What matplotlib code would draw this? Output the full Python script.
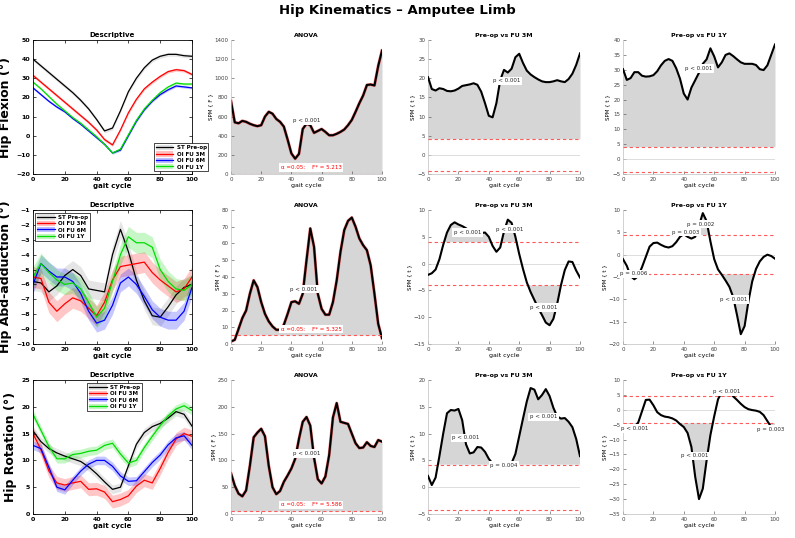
import numpy as np
import matplotlib
matplotlib.use('Agg')
import matplotlib.pyplot as plt
from matplotlib.patches import Patch
from matplotlib.lines import Line2D
from matplotlib.legend_handler import HandlerTuple

# gait cycle grids (%)
gait5 = np.arange(0, 101, 5)
gait25 = np.arange(0, 100.1, 2.5)

groups = ['ST Pre-op', 'OI FU 3M', 'OI FU 6M', 'OI FU 1Y']
group_colors = ['black', 'red', 'blue', '#00dd00']
band_colors = ['0.55', 'red', 'blue', '#00dd00']

# ---------------- Hip flexion (deg) ----------------
flex_pre = [40, 36.5, 33, 29.5, 26, 22.5, 18.5, 14, 8.5, 2.5, 4, 13, 23, 30, 35.5, 39.5, 41.5, 42.5, 42.5, 41.8, 41.5]
flex_3m = [31.5, 28, 24.5, 21, 17.5, 14, 10.5, 7, 3, -2, -4.8, 3, 12, 19, 24.5, 28, 31, 33.5, 34.5, 34, 32]
flex_6m = [25, 21.5, 18, 15, 12.5, 9, 6, 2.5, -1, -4.5, -9, -7.5, 0, 7.5, 13.5, 18, 21.5, 24, 26, 25.5, 25]
flex_1y = [28, 24.5, 20.5, 16.5, 13, 9.5, 6.5, 3, -0.5, -4.5, -9, -7, 0.5, 8, 14, 18.5, 22.5, 25.5, 27.5, 27, 27]
flex_sd = [1.0, 0.8, 0.6, 0.6]

flex_anova = [763, 540, 530, 555, 545, 525, 510, 500, 510, 600, 650, 630, 575, 545, 495, 360, 215, 160,
              210, 470, 525, 510, 430, 450, 470, 440, 405, 405, 420, 440, 465, 510, 565, 650, 740, 820,
              930, 935, 925, 1130, 1290]
flex_fstar = 5.213
flex_t3m = [20.3, 17.2, 16.8, 17.4, 17.2, 16.7, 16.6, 16.8, 17.3, 18.0, 18.2, 18.4, 18.7, 18.3, 16.5, 13.5,
            10.2, 9.8, 13.5, 19.5, 22.2, 21.5, 22.5, 25.5, 26.4, 24, 22, 21, 20.3, 19.7, 19.2, 19.0, 19.0,
            19.2, 19.5, 19.2, 19.0, 19.8, 21.2, 23.5, 26.5]
flex_t3m_thr = 4.2
flex_t1y = [30.2, 26.6, 27.2, 29.2, 29.2, 28.0, 27.7, 27.8, 28.2, 29.5, 31.5, 33, 33.6, 33, 30.5, 27, 22,
            20, 24, 26.5, 29, 32, 33.5, 37.2, 34.5, 30.8, 32.5, 35, 35.5, 34.6, 33.5, 32.5, 32, 32, 32,
            31.6, 30.2, 29.9, 31.5, 35, 38.5]
flex_t1y_thr = 4.2

# ---------------- Hip abd-adduction (deg) ----------------
abd_pre = [-5.8, -5.9, -6.5, -6.1, -5.4, -5.0, -5.4, -6.3, -6.4, -6.5, -4.0, -2.3, -3.8, -5.7, -7.1, -8.1,
           -8.2, -7.5, -6.7, -6.2, -6.0]
abd_3m = [-5.5, -5.6, -7.2, -7.8, -7.3, -6.9, -7.1, -7.6, -8.1, -7.2, -5.7, -4.8, -4.7, -4.6, -4.5, -5.2,
          -5.7, -6.1, -6.5, -6.3, -5.5]
abd_6m = [-6.0, -4.6, -5.1, -5.5, -5.5, -5.8, -6.6, -7.8, -8.6, -8.4, -7.4, -5.9, -5.5, -6.0, -6.8, -7.7,
          -8.2, -8.4, -8.4, -7.8, -6.2]
abd_1y = [-5.5, -4.6, -5.2, -5.7, -6.0, -5.9, -6.3, -7.2, -8.2, -7.6, -5.8, -4.0, -2.8, -3.2, -3.2, -3.5,
          -5.0, -5.8, -6.3, -6.4, -6.0]
abd_sd = [0.6, 0.7, 0.6, 0.7]

abd_anova = [1.5, 2.5, 9, 15.5, 20, 30, 38, 34, 25, 18, 13.5, 10.5, 8.5, 8.5, 11.5, 18, 25, 25.5, 24, 30,
             50, 69, 58, 30, 21, 17.5, 17.5, 25, 38, 55, 68, 73.5, 75.5, 70, 63, 59, 56, 47, 30, 12, 3.5]
abd_fstar = 5.325
abd_t3m = [-2.1, -1.8, -1.1, 0.8, 3.5, 5.8, 7.2, 7.7, 7.3, 7.0, 6.6, 6.0, 5.5, 5.5, 5.7, 5.8, 5.0, 3.3,
           2.2, 3.0, 6.0, 8.2, 7.6, 5.0, 1.8, -1.0, -3.5, -5.3, -6.8, -8.3, -9.6, -11.0, -11.5, -10.3,
           -7.5, -4.0, -1.2, 0.4, 0.3, -1.3, -2.6]
abd_t3m_thr = 4.0
abd_t1y = [-1.0, -2.5, -4.8, -5.5, -4.8, -2.8, -0.5, 1.8, 2.6, 2.7, 2.2, 1.8, 1.6, 1.9, 2.8, 4.0, 4.6, 4.0,
           3.6, 4.0, 6.5, 9.3, 7.5, 3.0, -1.0, -3.3, -4.5, -5.8, -7.2, -9.5, -13.5, -17.8, -16.0, -10.5,
           -6.0, -3.2, -1.5, -0.5, 0.0, -0.3, -0.9]
abd_t1y_thr = 4.4

# ---------------- Hip rotation (deg) ----------------
rot_pre = [15.5, 13.5, 12.2, 11.4, 10.8, 10.3, 9.8, 8.8, 7.5, 6.0, 4.6, 5.0, 9.0, 13.0, 15.2, 16.3, 16.9,
           17.9, 19.1, 18.6, 16.4]
rot_3m = [15.0, 12.0, 8.0, 5.8, 5.4, 5.8, 6.1, 4.6, 4.7, 4.1, 2.3, 2.7, 3.4, 5.2, 6.3, 5.8, 8.5, 11.5,
          14.0, 15.0, 14.5]
rot_6m = [12.8, 12.2, 8.7, 5.0, 4.5, 6.3, 8.0, 9.3, 10.0, 10.0, 8.9, 7.1, 6.1, 6.2, 7.9, 9.6, 11.0, 12.9,
          14.2, 14.6, 12.8]
rot_1y = [18.6, 15.6, 12.6, 10.3, 10.3, 11.1, 11.3, 11.7, 11.9, 12.8, 13.2, 11.2, 9.5, 10.0, 12.4, 14.5,
          16.5, 18.3, 19.6, 20.2, 19.3]
rot_sd = [0.8, 1.2, 0.8, 0.8]

rot_anova = [76, 53, 38, 33, 44, 90, 143, 152, 159, 145, 90, 50, 37, 43, 60, 72, 85, 103, 140, 172, 181,
             165, 105, 65, 57, 70, 110, 180, 207, 172, 170, 168, 150, 132, 123, 124, 134, 127, 125, 138, 135]
rot_fstar = 5.586
rot_t3m = [2.1, 0.4, 1.8, 5.8, 10.0, 13.8, 14.4, 14.3, 14.6, 12.5, 8.0, 6.3, 6.5, 7.5, 7.4, 6.6, 5.3, 4.4,
           4.0, 4.0, 4.0, 4.0, 4.5, 6.2, 9.5, 12.8, 16.0, 18.5, 18.2, 16.4, 17.2, 18.3, 17.0, 14.8, 13.2,
           12.8, 12.9, 12.2, 11.2, 9.0, 5.8]
rot_t3m_thr = 4.2
rot_t1y = [-6.4, -6.6, -6.4, -5.7, -4.3, -0.5, 3.3, 3.4, 1.5, -0.8, -1.8, -2.3, -2.5, -2.9, -3.6, -4.8,
           -5.8, -7.8, -12.5, -22.5, -30.0, -26.5, -17.0, -8.5, -2.2, 3.5, 6.0, 6.5, 6.0, 4.5, 3.3, 2.0,
           0.9, 0.2, -0.1, -0.3, -0.7, -1.8, -3.8, -5.8, -6.5]
rot_t1y_thr = 4.5

W, H = 795, 538
fig = plt.figure(figsize=(W / 100, H / 100), dpi=100)
fig.suptitle('Hip Kinematics \u2013 Amputee Limb', fontsize=9.5, fontweight='bold', y=0.993)

col_left = [33, 231, 428, 623]
col_right = [192, 382, 580, 775]
row_top = [40, 210, 380]
row_h = 134

THR_RED = '#ff5a5a'


def new_axes(r, c):
    l = col_left[c] / W
    b = 1 - (row_top[r] + row_h) / H
    return fig.add_axes([l, b, (col_right[c] - col_left[c]) / W, row_h / H])


def descriptive(ax, series, sds, ylim, yticks, ylabel, leg_loc, leg_anchor):
    for s, sd, lc, bc in zip(series, sds, group_colors, band_colors):
        s = np.array(s)
        ax.fill_between(gait5, s - sd, s + sd, color=bc, alpha=0.22, lw=0)
        ax.plot(gait5, s, color=lc, lw=0.9)
    ax.set_xlim(0, 100)
    ax.set_ylim(*ylim)
    ax.set_xticks(range(0, 101, 20))
    ax.set_yticks(yticks)
    ax.tick_params(direction='in', length=2, width=0.5, labelsize=4.5, pad=2, top=True, right=True)
    for lab in ax.get_xticklabels() + ax.get_yticklabels():
        lab.set_fontweight('bold')
    for sp in ax.spines.values():
        sp.set_linewidth(0.6)
    ax.set_title('Descriptive', fontsize=5, fontweight='bold', pad=2)
    ax.set_xlabel('gait cycle', fontsize=5, fontweight='bold', labelpad=1)
    ax.set_ylabel(ylabel, fontsize=9, fontweight='bold', labelpad=3)
    handles = [(Patch(facecolor=bc, alpha=0.25, lw=0), Line2D([], [], color=lc, lw=0.9))
               for lc, bc in zip(group_colors, band_colors)]
    leg = ax.legend(handles, groups, loc=leg_loc, bbox_to_anchor=leg_anchor,
                    handler_map={tuple: HandlerTuple(ndivide=1)}, prop={'size': 4, 'weight': 'bold'},
                    frameon=True, fancybox=False, edgecolor='black', framealpha=1,
                    handlelength=3.2, handleheight=1.1, labelspacing=0.15, borderpad=0.3,
                    handletextpad=0.6, borderaxespad=0)
    leg.get_frame().set_linewidth(0.5)


def spm_style(ax, title, ylim, yticks, ylab):
    ax.set_xlim(0, 100)
    ax.set_ylim(*ylim)
    ax.set_xticks(range(0, 101, 20))
    ax.set_yticks(yticks)
    ax.tick_params(direction='in', length=2, width=0.4, labelsize=4, pad=2, colors='0.25')
    for side in ['top', 'right']:
        ax.spines[side].set_visible(False)
    for side in ['left', 'bottom']:
        ax.spines[side].set_color('0.75')
        ax.spines[side].set_linewidth(0.5)
    ax.set_title(title, fontsize=4.5, fontweight='bold', pad=2)
    ax.set_xlabel('gait cycle', fontsize=4.5, labelpad=1)
    ax.set_ylabel(ylab, fontsize=4, labelpad=1)


def plabel(ax, x, y, txt, color='0.15'):
    ax.text(x, y, txt, fontsize=4, color=color, ha='center', va='center', zorder=6,
            bbox=dict(facecolor='white', edgecolor='none', pad=1.2))


def thr_line(ax, y):
    ax.plot([0, 100], [y, y], color=THR_RED, lw=0.8, ls=(0, (3, 2.5)), zorder=4)


def anova(ax, z, fstar, ylim, yticks, plabels):
    z = np.array(z)
    ax.fill_between(gait25, fstar, z, where=z > fstar, interpolate=True, color='0.84', lw=0)
    ax.plot(gait25, z, color='red', lw=2.2, alpha=0.5)
    ax.plot(gait25, z, color='black', lw=1.5)
    thr_line(ax, fstar)
    spm_style(ax, 'ANOVA', ylim, yticks, 'SPM { F }')
    for x, y, t in plabels:
        plabel(ax, x, y, t)
    plabel(ax, 53, fstar + (ylim[1] - ylim[0]) * 0.045, '\u03b1 =0.05:    F* = %.3f' % fstar, color='red')


def ttest(ax, z, thr, title, ylim, yticks, plabels):
    z = np.array(z)
    ax.axhline(0, color='0.82', lw=0.5)
    ax.fill_between(gait25, thr, z, where=z > thr, interpolate=True, color='0.84', lw=0)
    ax.fill_between(gait25, -thr, z, where=z < -thr, interpolate=True, color='0.84', lw=0)
    ax.plot(gait25, z, color='black', lw=1.5, zorder=5)
    thr_line(ax, thr)
    thr_line(ax, -thr)
    spm_style(ax, title, ylim, yticks, 'SPM { t }')
    for x, y, t in plabels:
        plabel(ax, x, y, t)


# row 1: flexion
ax = new_axes(0, 0)
descriptive(ax, [flex_pre, flex_3m, flex_6m, flex_1y], flex_sd, (-20, 50), range(-20, 51, 10),
            'Hip Flexion (\u00b0)', 'lower left', (0.76, 0.02))
ax = new_axes(0, 1)
anova(ax, flex_anova, flex_fstar, (0, 1400), range(0, 1401, 200), [(50, 560, 'p < 0.001')])
ax = new_axes(0, 2)
ttest(ax, flex_t3m, flex_t3m_thr, 'Pre-op vs FU 3M', (-5, 30), range(-5, 31, 5), [(52, 19.3, 'p < 0.001')])
ax = new_axes(0, 3)
ttest(ax, flex_t1y, flex_t1y_thr, 'Pre-op vs FU 1Y', (-5, 40), range(-5, 41, 5), [(50, 30.4, 'p < 0.001')])

# row 2: abd-adduction
ax = new_axes(1, 0)
descriptive(ax, [abd_pre, abd_3m, abd_6m, abd_1y], abd_sd, (-10, -1), range(-10, 0, 1),
            'Hip Abd-adduction (\u00b0)', 'upper left', (0.015, 0.98))
ax = new_axes(1, 1)
anova(ax, abd_anova, abd_fstar, (0, 80), range(0, 81, 10), [(48, 32.8, 'p < 0.001')])
ax = new_axes(1, 2)
ttest(ax, abd_t3m, abd_t3m_thr, 'Pre-op vs FU 3M', (-15, 10), range(-15, 11, 5),
      [(26, 5.8, 'p < 0.001'), (54, 6.4, 'p < 0.001'), (76, -8.2, 'p < 0.001')])
ax = new_axes(1, 3)
ttest(ax, abd_t1y, abd_t1y_thr, 'Pre-op vs FU 1Y', (-20, 10), range(-20, 11, 5),
      [(7, -4.3, 'p = 0.006'), (41, 5.0, 'p = 0.003'), (51, 6.8, 'p = 0.002'), (73, -10, 'p < 0.001')])

# row 3: rotation
ax = new_axes(2, 0)
descriptive(ax, [rot_pre, rot_3m, rot_6m, rot_1y], rot_sd, (0, 25), range(0, 26, 5),
            'Hip Rotation (\u00b0)', 'upper left', (0.34, 0.98))
ax = new_axes(2, 1)
anova(ax, rot_anova, rot_fstar, (0, 250), range(0, 251, 50), [(50, 113, 'p < 0.001')])
ax = new_axes(2, 2)
ttest(ax, rot_t3m, rot_t3m_thr, 'Pre-op vs FU 3M', (-5, 20), range(-5, 21, 5),
      [(25, 9.2, 'p < 0.001'), (50, 4.1, 'p = 0.004'), (76, 13.1, 'p < 0.001')])
ax = new_axes(2, 3)
ttest(ax, rot_t1y, rot_t1y_thr, 'Pre-op vs FU 1Y', (-35, 10), range(-35, 11, 5),
      [(8, -6.3, 'p < 0.001'), (68, 6.0, 'p < 0.001'), (47, -15.5, 'p < 0.001'), (97, -6.5, 'p = 0.003')])

fig.savefig('out.png', dpi=100)
